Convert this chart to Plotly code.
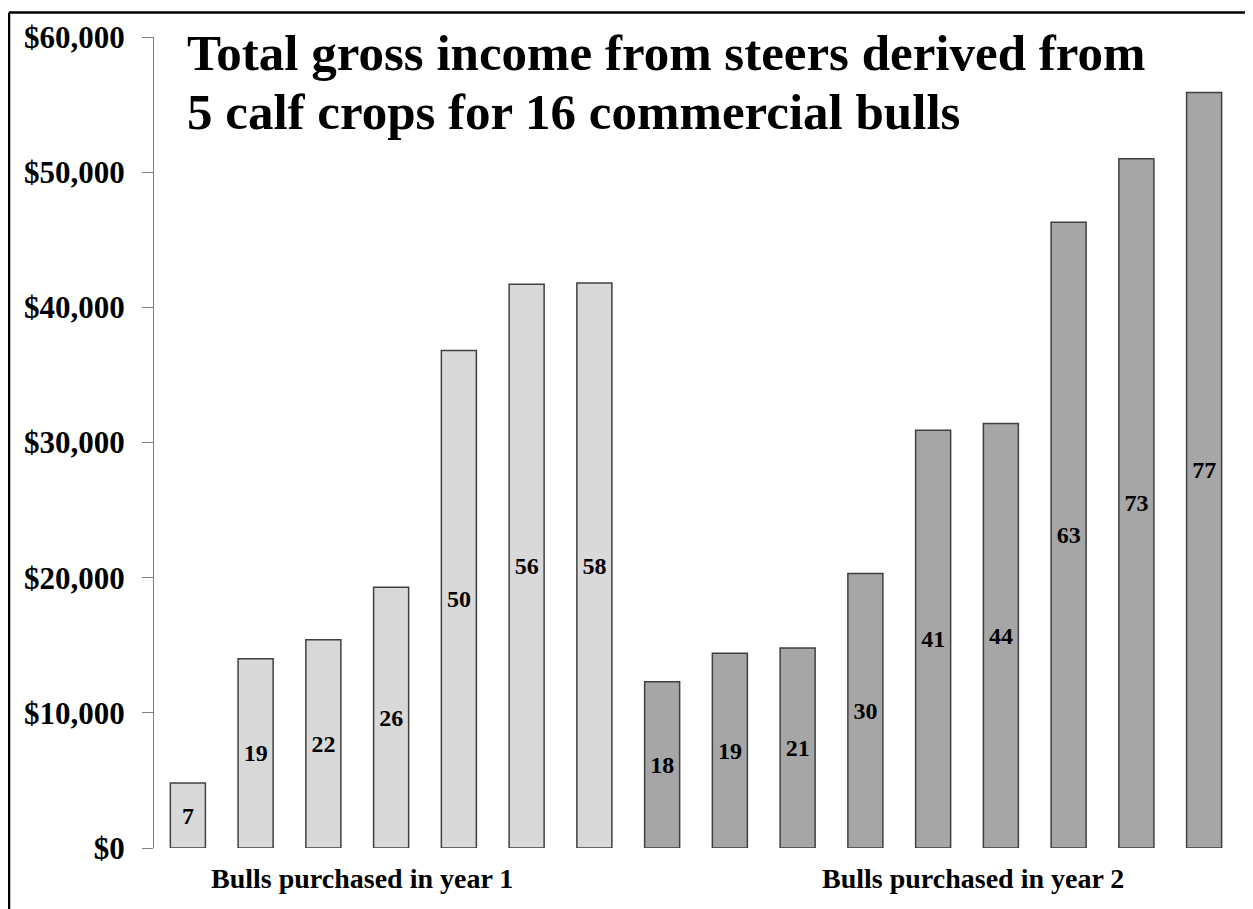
import plotly.graph_objects as go

# ---- data ----
year1_x = [1, 2, 3, 4, 5, 6, 7]
year1_values = [4800, 14000, 15400, 19300, 36800, 41700, 41800]
year1_labels = ["7", "19", "22", "26", "50", "56", "58"]

year2_x = [8, 9, 10, 11, 12, 13, 14, 15, 16]
year2_values = [12300, 14400, 14800, 20300, 30900, 31400, 46300, 51000, 55900]
year2_labels = ["18", "19", "21", "30", "41", "44", "63", "73", "77"]

y_tickvals = [0, 10000, 20000, 30000, 40000, 50000, 60000]
y_ticktext = ["$0", "$10,000", "$20,000", "$30,000", "$40,000", "$50,000", "$60,000"]

title_lines = ["Total gross income from steers derived from",
               "5 calf crops for 16 commercial bulls"]
group_labels = ["Bulls purchased in year 1", "Bulls purchased in year 2"]
group_label_x = [3.57, 12.59]

FONT = "Liberation Serif, Times New Roman, serif"

# page has an 8px body margin; figure sized to fit the viewport
W, H = 1245, 901
ML, MR, MT, MB = 146, 15, 25.5, 60.7
plot_w = W - ML - MR
plot_h = H - MT - MB

fig = go.Figure()
for xs, vals, labels, col in [(year1_x, year1_values, year1_labels, "#d9d9d9"),
                              (year2_x, year2_values, year2_labels, "#a6a6a6")]:
    fig.add_trace(go.Bar(
        x=xs, y=vals, text=labels,
        textposition="inside", insidetextanchor="middle", textangle=0,
        constraintext="none",
        textfont=dict(family=FONT, size=24, color="black", weight="bold"),
        marker=dict(color=col, line=dict(color="#404040", width=1.5)),
        showlegend=False, hoverinfo="skip",
    ))

annotations = []
for i, line in enumerate(title_lines):
    annotations.append(dict(
        text=line, xref="paper", yref="paper",
        x=0.0286, y=[1.017, 0.944][i], xanchor="left", yanchor="top",
        showarrow=False,
        font=dict(family=FONT, size=51, color="black", weight="bold"),
    ))
for lbl, gx in zip(group_labels, group_label_x):
    annotations.append(dict(
        text=lbl, xref="x", yref="paper", x=gx, y=-0.0160,
        xanchor="center", yanchor="top", showarrow=False,
        font=dict(family=FONT, size=28, color="black", weight="bold"),
    ))

# border: left and top edges of the page
bx0 = (1 - ML) / plot_w
by1 = (H - MB - 1) / plot_h

fig.update_layout(
    width=W, height=H,
    margin=dict(l=ML, r=MR, t=MT, b=MB, pad=0),
    paper_bgcolor="white", plot_bgcolor="white",
    barmode="overlay", bargap=0.483,
    xaxis=dict(range=[0.5, 16.5], visible=False),
    yaxis=dict(range=[0, 60000], tickvals=y_tickvals, ticktext=y_ticktext,
               showgrid=False, zeroline=False, showline=True,
               linecolor="#808080", linewidth=1,
               ticks="outside", ticklen=11, tickcolor="#808080",
               ticklabelstandoff=11,
               tickfont=dict(family=FONT, size=31, color="black", weight="bold")),
    annotations=annotations,
    shapes=[
        dict(type="line", xref="paper", yref="paper", x0=bx0, x1=bx0, y0=-0.2, y1=by1,
             line=dict(color="black", width=2.5)),
        dict(type="line", xref="paper", yref="paper", x0=bx0, x1=1.2, y0=by1, y1=by1,
             line=dict(color="black", width=2.5)),
    ],
)

fig.write_html("out.html")
